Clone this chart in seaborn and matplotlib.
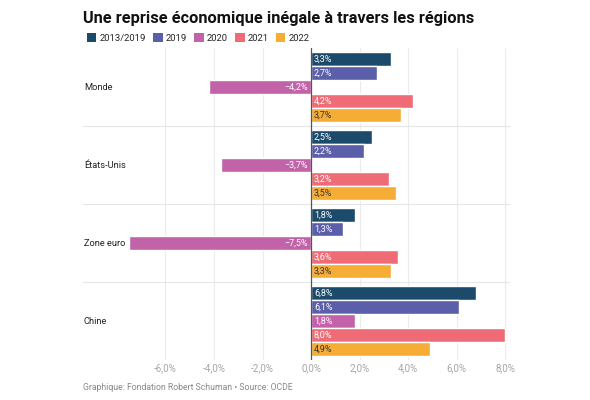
import pandas as pd
import matplotlib.pyplot as plt
import seaborn as sns
from matplotlib.patches import Patch

sns.set_theme(style='white')
plt.rcParams['font.family'] = ['Roboto', 'DejaVu Sans']

# Data
regions = ['Monde', 'États-Unis', 'Zone euro', 'Chine']
periods = ['2013/2019', '2019', '2020', '2021', '2022']
values = {
    '2013/2019': [3.3, 2.5, 1.8, 6.8],
    '2019': [2.7, 2.2, 1.3, 6.1],
    '2020': [-4.2, -3.7, -7.5, 1.8],
    '2021': [4.2, 3.2, 3.6, 8.0],
    '2022': [3.7, 3.5, 3.3, 4.9],
}
colors = ['#1c4a6a', '#5b5ea8', '#c263a9', '#ef6c76', '#f5ad35']
label_colors = ['white', 'white', 'white', 'white', '#333333']
x_ticks = [-6, -4, -2, 0, 2, 4, 6, 8]

# Long-form table
rows = []
for p in periods:
    for r, v in zip(regions, values[p]):
        rows.append({'region': r, 'period': p, 'value': v})
df = pd.DataFrame(rows)

fig = plt.figure(figsize=(5.9, 4), dpi=100)
ax = fig.add_axes([0.1407, 0.1, 0.7237, 0.78])

sns.barplot(data=df, y='region', x='value', hue='period', order=regions,
            hue_order=periods, palette=colors, orient='h', width=0.9, gap=0.06,
            saturation=1, legend=False, ax=ax)

ax.set_xlim(-9.4, 8.2)
ax.set_ylim(3.5, -0.5)
ax.set_xticks(x_ticks)
ax.set_xticklabels([f'{t:.1f}%'.replace('.', ',') for t in x_ticks],
                   color='#a6a6a6', fontsize=7)
ax.tick_params(axis='x', length=0, pad=2)
ax.set_yticks([])
ax.set_xlabel('')
ax.set_ylabel('')
for s in ax.spines.values():
    s.set_visible(False)

# Grid lines
for t in x_ticks:
    if t != 0:
        ax.axvline(t, color='#ebebeb', lw=0.8, zorder=0)
for y in [0.5, 1.5, 2.5]:
    ax.axhline(y, color='#e6e6e6', lw=0.8, zorder=0)
ax.axvline(0, color='#555555', lw=0.9, zorder=3)

# Category labels
for i, r in enumerate(regions):
    ax.text(0.002, i, r, transform=ax.get_yaxis_transform(), ha='left',
            va='center', fontsize=6.7, color='#222222')

# Bar labels at the bar base
for cont, lc in zip(ax.containers, label_colors):
    for bar in cont:
        w = bar.get_width()
        yc = bar.get_y() + bar.get_height() / 2
        txt = f'{abs(w):.1f}%'.replace('.', ',')
        if w < 0:
            ax.text(-0.12, yc, '\u2212' + txt, ha='right', va='center',
                    fontsize=6.5, color=lc, zorder=4)
        else:
            ax.text(0.12, yc, txt, ha='left', va='center',
                    fontsize=6.5, color=lc, zorder=4)

# Title, legend, source
fig.text(0.1407, 0.955, 'Une reprise économique inégale à travers les régions',
         fontsize=11.8, fontweight='bold', color='#111111', va='center')
handles = [Patch(facecolor=c, edgecolor='none') for c in colors]
fig.legend(handles, periods, loc='center left', bbox_to_anchor=(0.133, 0.905),
           ncol=5, frameon=False, fontsize=6.8, handlelength=1.0,
           handleheight=1.0, handletextpad=0.35, columnspacing=0.75)
fig.text(0.1407, 0.03, 'Graphique: Fondation Robert Schuman \u2022 Source: OCDE',
         fontsize=6.2, color='#888888', va='center')

fig.savefig('out.png', dpi=100)
